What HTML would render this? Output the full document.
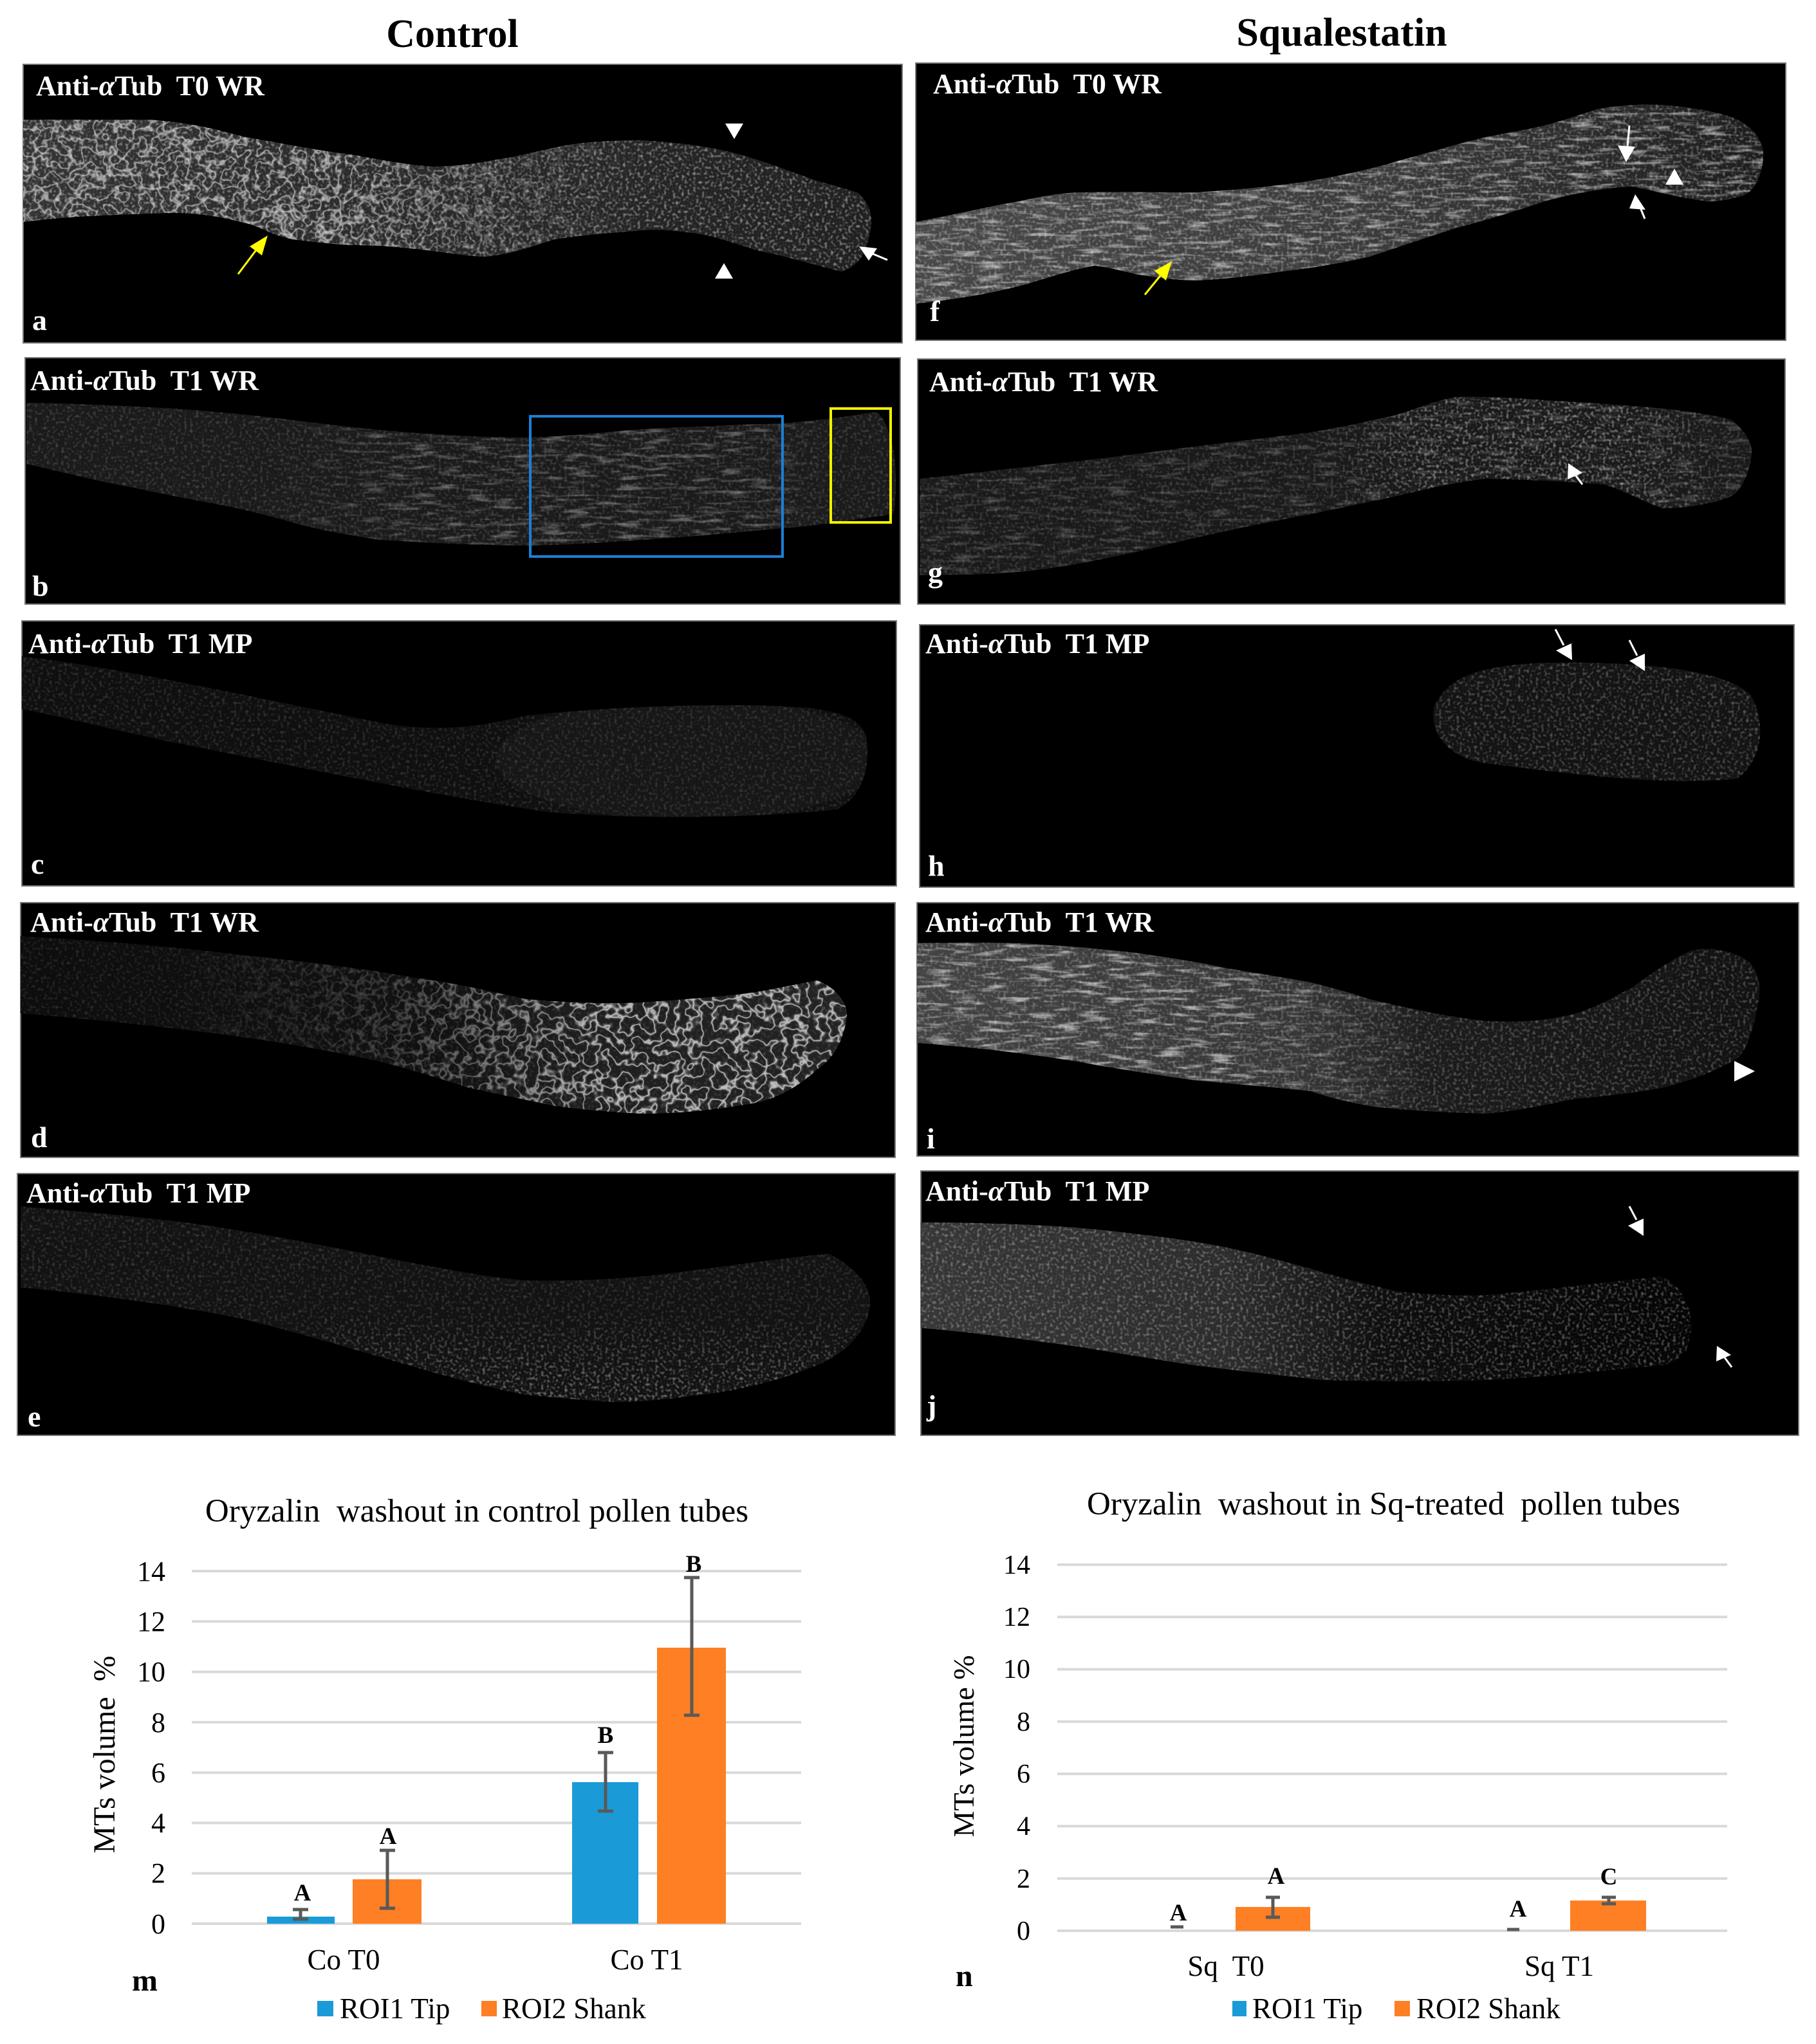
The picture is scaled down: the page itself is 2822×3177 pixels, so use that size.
<!DOCTYPE html>
<html><head><meta charset="utf-8"><style>
html,body{margin:0;padding:0;background:#fff;}
svg{display:block;}
text{font-family:"Liberation Serif",serif;}
.lbl{fill:#fff;font-weight:bold;font-size:44px;white-space:pre;}
.let{fill:#fff;font-weight:bold;font-size:46px;}
.tk{font-size:44px;fill:#000;text-anchor:end;}
.tkn{font-size:42px;fill:#000;text-anchor:end;}
.sig{font-size:37px;font-weight:bold;text-anchor:middle;fill:#000;}
.cat{font-size:45px;text-anchor:middle;fill:#000;white-space:pre;}
.leg{font-size:45px;fill:#000;}
.grid{stroke:#d9d9d9;stroke-width:4;}
.err{stroke:#595959;stroke-width:5;fill:none;}
</style></head><body>
<svg width="2822" height="3177" viewBox="0 0 2822 3177" xmlns="http://www.w3.org/2000/svg" font-family="Liberation Serif, serif">
<defs>
<filter id="dots" x="0" y="0" width="100%" height="100%" color-interpolation-filters="sRGB">
<feTurbulence type="fractalNoise" baseFrequency="0.22" numOctaves="1" seed="3"/>
<feColorMatrix type="matrix" values="0 0 0 0 1  0 0 0 0 1  0 0 0 0 1  3.2 0 0 0 -1.55"/>
</filter>
<filter id="streak" x="0" y="0" width="100%" height="100%" color-interpolation-filters="sRGB">
<feTurbulence type="fractalNoise" baseFrequency="0.025 0.16" numOctaves="2" seed="7"/>
<feColorMatrix type="matrix" values="0 0 0 0 1  0 0 0 0 1  0 0 0 0 1  3.5 0 0 0 -1.75"/>
</filter>
<filter id="fil" x="0" y="0" width="100%" height="100%" color-interpolation-filters="sRGB">
<feTurbulence type="fractalNoise" baseFrequency="0.055" numOctaves="2" seed="11"/>
<feColorMatrix type="matrix" values="0 0 0 0 1  0 0 0 0 1  0 0 0 0 1  1 0 0 0 0"/>
<feComponentTransfer><feFuncA type="table" tableValues="0 0 0 0 0 0 0 0 0 0.3 1 0.3 0 0 0 0 0 0 0 0 0"/></feComponentTransfer>
</filter>

<linearGradient id="gA" x1="0" x2="1" y1="0" y2="0"><stop offset="0" stop-color="#333"/><stop offset="0.45" stop-color="#2a2a2a"/><stop offset="1" stop-color="#202020"/></linearGradient>
<linearGradient id="gD" x1="0" x2="1" y1="0" y2="0"><stop offset="0" stop-color="#0d0d0d"/><stop offset="0.5" stop-color="#101010"/><stop offset="0.68" stop-color="#1e1e1e"/><stop offset="1" stop-color="#222"/></linearGradient>
<linearGradient id="gF" x1="0" x2="1" y1="0" y2="0"><stop offset="0" stop-color="#484848"/><stop offset="0.55" stop-color="#3a3a3a"/><stop offset="0.8" stop-color="#2a2a2a"/><stop offset="1" stop-color="#1c1c1c"/></linearGradient>
<linearGradient id="gI" x1="0" x2="1" y1="0" y2="0"><stop offset="0" stop-color="#424242"/><stop offset="0.45" stop-color="#363636"/><stop offset="0.6" stop-color="#1c1c1c"/><stop offset="1" stop-color="#111"/></linearGradient>
<linearGradient id="gJ" x1="0" x2="1" y1="0" y2="0"><stop offset="0" stop-color="#363636"/><stop offset="0.4" stop-color="#2c2c2c"/><stop offset="0.6" stop-color="#0e0e0e"/><stop offset="1" stop-color="#050505"/></linearGradient>

<!-- fade gradients for overlay masks -->
<linearGradient id="fA" gradientUnits="userSpaceOnUse" x1="36" x2="1000" y1="0" y2="0"><stop offset="0" stop-color="#fff"/><stop offset="0.5" stop-color="#fff"/><stop offset="1" stop-color="#000"/></linearGradient>
<linearGradient id="fB" gradientUnits="userSpaceOnUse" x1="400" x2="1300" y1="0" y2="0"><stop offset="0" stop-color="#000"/><stop offset="0.3" stop-color="#fff"/><stop offset="0.85" stop-color="#fff"/><stop offset="1" stop-color="#000"/></linearGradient>
<linearGradient id="fD" gradientUnits="userSpaceOnUse" x1="250" x2="950" y1="0" y2="0"><stop offset="0" stop-color="#000"/><stop offset="0.5" stop-color="#444"/><stop offset="1" stop-color="#fff"/></linearGradient>
<linearGradient id="fE" gradientUnits="userSpaceOnUse" x1="0" x2="0" y1="2040" y2="2160"><stop offset="0" stop-color="#000"/><stop offset="1" stop-color="#fff"/></linearGradient>
<linearGradient id="fG" gradientUnits="userSpaceOnUse" x1="2050" x2="2720" y1="0" y2="0"><stop offset="0" stop-color="#000"/><stop offset="0.25" stop-color="#fff"/><stop offset="0.7" stop-color="#fff"/><stop offset="1" stop-color="#000"/></linearGradient>
<linearGradient id="fI" gradientUnits="userSpaceOnUse" x1="1900" x2="2250" y1="0" y2="0"><stop offset="0" stop-color="#fff"/><stop offset="1" stop-color="#000"/></linearGradient>
<mask id="mA"><rect x="0" y="0" width="2822" height="3177" fill="url(#fA)"/></mask>
<mask id="mB"><rect x="0" y="0" width="2822" height="3177" fill="url(#fB)"/></mask>
<mask id="mD"><rect x="0" y="0" width="2822" height="3177" fill="url(#fD)"/></mask>
<mask id="mE"><rect x="0" y="0" width="2822" height="3177" fill="url(#fE)"/></mask>
<mask id="mG"><rect x="0" y="0" width="2822" height="3177" fill="url(#fG)"/></mask>
<mask id="mI"><rect x="0" y="0" width="2822" height="3177" fill="url(#fI)"/></mask>

<path id="pA" d="M36,186 L230,186 C300,190 350,205 381,213 C450,225 500,235 545,240 C600,250 650,259 680,259 C730,257 760,250 790,245 C840,235 880,224 907,222 C950,218 980,218 998,218 C1060,222 1100,228 1134,236 C1190,250 1230,268 1270,281 C1300,290 1320,295 1334,300 C1350,315 1358,335 1352,360 C1348,390 1335,415 1307,422 C1260,410 1220,398 1180,390 C1140,378 1110,367 1089,364 C1050,358 1020,356 998,358 C950,362 900,366 862,372 C820,385 790,396 753,399 C720,398 680,390 635,386 C600,382 570,381 545,381 C500,378 480,375 454,372 C420,365 410,355 390,349 C350,338 310,331 272,331 C220,332 180,334 136,336 C100,338 60,342 36,345 Z"/>
<path id="pB" d="M41,626 C150,628 220,632 272,635 C360,642 400,646 454,653 C530,662 580,668 635,672 C720,678 770,680 817,680 C900,678 950,670 998,667 C1100,662 1160,660 1216,658 C1290,652 1330,645 1361,640 C1380,650 1392,700 1392,740 C1392,780 1390,795 1388,799 C1300,812 1260,818 1216,821 C1120,830 1050,836 998,839 C900,846 850,848 799,848 C700,846 640,842 590,839 C530,830 490,822 454,812 C400,796 360,788 318,780 C260,770 220,760 181,753 C120,740 80,730 41,721 Z"/>
<path id="pC" d="M34,1020 C200,1040 400,1085 600,1125 C700,1140 760,1125 820,1112 C950,1098 1100,1094 1200,1097 C1290,1100 1330,1110 1345,1140 C1355,1190 1340,1240 1300,1258 C1200,1270 1000,1275 850,1262 C700,1240 500,1200 300,1160 C200,1140 100,1115 34,1102 Z"/>
<path id="pD" d="M32,1455 C200,1465 300,1475 363,1483 C480,1495 580,1508 635,1518 C720,1530 780,1545 817,1553 C900,1560 960,1560 998,1558 C1080,1552 1140,1548 1180,1541 C1220,1534 1250,1527 1270,1524 C1300,1535 1318,1560 1316,1581 C1310,1620 1295,1645 1270,1662 C1240,1690 1210,1705 1180,1713 C1100,1728 1040,1731 998,1731 C940,1728 900,1724 862,1719 C820,1710 770,1700 726,1690 C680,1675 630,1660 590,1650 C500,1630 420,1618 363,1610 C250,1595 120,1582 32,1575 Z"/>
<path id="pE" d="M32,1875 C150,1885 220,1892 272,1898 C380,1912 470,1930 545,1944 C650,1965 750,1985 817,1990 C900,1992 960,1987 998,1984 C1080,1975 1140,1966 1180,1961 C1230,1955 1265,1950 1289,1949 C1330,1970 1355,2000 1352,2030 C1345,2075 1310,2105 1270,2122 C1200,2150 1140,2162 1089,2168 C1030,2176 990,2179 953,2179 C900,2176 860,2172 817,2168 C750,2155 690,2138 635,2122 C540,2094 440,2065 363,2047 C250,2025 130,2010 32,2001 Z"/>
<path id="pF" d="M1423,345 C1500,330 1540,320 1583,313 C1620,305 1650,300 1674,299 C1750,298 1800,299 1856,299 C1930,295 1990,288 2037,281 C2100,270 2140,260 2173,250 C2230,235 2270,222 2309,213 C2350,205 2380,200 2400,195 C2440,185 2470,172 2491,168 C2530,162 2560,162 2582,163 C2640,167 2690,178 2709,191 C2730,205 2742,225 2740,245 C2738,275 2725,298 2709,304 C2690,310 2670,313 2654,313 C2610,308 2570,296 2536,290 C2490,292 2440,302 2400,313 C2350,330 2300,345 2264,354 C2220,368 2170,385 2128,399 C2080,410 2030,418 1992,422 C1940,430 1890,435 1856,436 C1820,435 1790,430 1765,426 C1740,420 1720,415 1701,413 C1660,420 1620,435 1583,445 C1530,458 1480,466 1423,472 Z"/>
<path id="pG" d="M1429,744 C1520,735 1620,722 1674,717 C1750,708 1810,700 1856,694 C1930,685 1990,678 2037,672 C2090,663 2140,652 2173,644 C2210,632 2240,620 2264,617 C2310,616 2360,619 2400,622 C2470,626 2530,630 2582,635 C2630,640 2670,646 2691,653 C2712,670 2725,690 2722,708 C2718,735 2708,760 2691,771 C2660,784 2620,790 2582,790 C2550,778 2520,760 2491,753 C2430,748 2360,745 2309,744 C2240,752 2180,770 2128,780 C2060,795 2000,806 1946,817 C1880,830 1820,845 1765,858 C1700,872 1640,884 1583,889 C1530,893 1480,894 1429,894 Z"/>
<path id="pH" d="M2228,1100 C2250,1050 2300,1035 2400,1030 C2550,1028 2680,1040 2720,1080 C2745,1120 2740,1180 2700,1210 C2600,1222 2450,1205 2300,1185 C2250,1175 2222,1140 2228,1100 Z"/>
<path id="pI" d="M1425,1466 C1480,1465 1540,1465 1583,1466 C1660,1470 1720,1476 1765,1481 C1830,1490 1870,1497 1901,1504 C1960,1514 2000,1520 2037,1527 C2080,1538 2105,1545 2128,1553 C2200,1570 2260,1582 2309,1587 C2370,1590 2410,1585 2446,1576 C2490,1562 2510,1548 2536,1535 C2570,1510 2600,1490 2627,1478 C2660,1470 2700,1480 2718,1495 C2735,1515 2738,1540 2731,1564 C2725,1600 2715,1630 2700,1645 C2660,1668 2620,1682 2582,1691 C2530,1700 2490,1704 2446,1708 C2400,1718 2350,1728 2309,1731 C2240,1729 2170,1725 2128,1719 C2090,1712 2060,1704 2037,1696 C1980,1690 1910,1684 1856,1679 C1790,1670 1730,1660 1674,1650 C1610,1640 1550,1632 1493,1627 C1460,1624 1440,1622 1425,1621 Z"/>
<path id="pJ" d="M1431,1900 C1500,1900 1550,1902 1583,1903 C1660,1906 1720,1912 1765,1918 C1830,1925 1870,1932 1901,1938 C1960,1950 2000,1962 2037,1972 C2090,1988 2140,2000 2173,2007 C2220,2013 2270,2014 2309,2013 C2400,2005 2500,1992 2582,1984 C2620,2000 2640,2050 2620,2100 C2605,2118 2595,2120 2582,2122 C2480,2132 2380,2142 2309,2145 C2220,2148 2120,2147 2055,2145 C1990,2138 1920,2130 1856,2122 C1790,2112 1730,2102 1674,2093 C1580,2080 1500,2070 1431,2064 Z"/>

<clipPath id="cA"><use href="#pA"/></clipPath>
<clipPath id="cB"><use href="#pB"/></clipPath>
<clipPath id="cC"><use href="#pC"/></clipPath>
<clipPath id="cD"><use href="#pD"/></clipPath>
<clipPath id="cE"><use href="#pE"/></clipPath>
<clipPath id="cF"><use href="#pF"/></clipPath>
<clipPath id="cG"><use href="#pG"/></clipPath>
<clipPath id="cH"><use href="#pH"/></clipPath>
<clipPath id="cI"><use href="#pI"/></clipPath>
<clipPath id="cJ"><use href="#pJ"/></clipPath>
</defs>

<rect x="0" y="0" width="2822" height="3177" fill="#fff"/>

<!-- Column titles -->
<text x="703" y="73" font-size="62" font-weight="bold" text-anchor="middle" fill="#000">Control</text>
<text x="2085" y="71" font-size="62" font-weight="bold" text-anchor="middle" fill="#000">Squalestatin</text>

<!-- Panel backgrounds -->
<g fill="#000" stroke="#777" stroke-width="2">
<rect x="36" y="100" width="1366" height="433"/>
<rect x="39" y="556" width="1360" height="383"/>
<rect x="34" y="965" width="1359" height="412"/>
<rect x="32" y="1403" width="1359" height="396"/>
<rect x="27" y="1824" width="1364" height="407"/>
<rect x="1423" y="98" width="1352" height="431"/>
<rect x="1426" y="558" width="1348" height="381"/>
<rect x="1429" y="971" width="1359" height="408"/>
<rect x="1425" y="1403" width="1370" height="394"/>
<rect x="1431" y="1820" width="1364" height="411"/>
</g>

<!-- Panel a -->
<use href="#pA" fill="url(#gA)"/>
<g clip-path="url(#cA)">
<rect x="36" y="180" width="1000" height="250" filter="url(#fil)" opacity="0.6" mask="url(#mA)"/>
<rect x="36" y="180" width="1330" height="250" filter="url(#dots)" opacity="0.45"/>
</g>
<!-- Panel b -->
<use href="#pB" fill="#1a1a1a"/>
<g clip-path="url(#cB)">
<rect x="39" y="620" width="1360" height="240" filter="url(#dots)" opacity="0.18"/>
<rect x="400" y="640" width="900" height="220" filter="url(#streak)" opacity="0.3" mask="url(#mB)"/>
</g>
<!-- Panel c -->
<use href="#pC" fill="#0f0f0f"/>
<g clip-path="url(#cC)">
<ellipse cx="1070" cy="1180" rx="300" ry="95" fill="#161616"/>
<rect x="34" y="1015" width="1320" height="270" filter="url(#dots)" opacity="0.15"/>
</g>
<!-- Panel d -->
<use href="#pD" fill="url(#gD)"/>
<g clip-path="url(#cD)">
<rect x="250" y="1450" width="1080" height="290" filter="url(#fil)" opacity="0.75" mask="url(#mD)"/>
<rect x="32" y="1450" width="1290" height="290" filter="url(#dots)" opacity="0.12"/>
</g>
<!-- Panel e -->
<use href="#pE" fill="#121212"/>
<g clip-path="url(#cE)">
<rect x="27" y="1870" width="1330" height="315" filter="url(#dots)" opacity="0.16"/>
<rect x="500" y="2040" width="850" height="145" filter="url(#dots)" opacity="0.3" mask="url(#mE)"/>
</g>
<!-- Panel f -->
<use href="#pF" fill="url(#gF)"/>
<g clip-path="url(#cF)">
<rect x="1423" y="160" width="1320" height="320" filter="url(#streak)" opacity="0.5"/>
<rect x="1423" y="160" width="1320" height="320" filter="url(#dots)" opacity="0.35"/>
</g>
<!-- Panel g -->
<use href="#pG" fill="#191919"/>
<g clip-path="url(#cG)">
<rect x="1426" y="610" width="1300" height="290" filter="url(#streak)" opacity="0.18"/>
<rect x="1426" y="610" width="1300" height="290" filter="url(#dots)" opacity="0.18"/>
<rect x="2050" y="610" width="680" height="200" filter="url(#dots)" opacity="0.3" mask="url(#mG)"/>
</g>
<!-- Panel h -->
<use href="#pH" fill="#131313"/>
<g clip-path="url(#cH)">
<rect x="2220" y="1025" width="530" height="200" filter="url(#dots)" opacity="0.28"/>
</g>
<!-- Panel i -->
<use href="#pI" fill="url(#gI)"/>
<g clip-path="url(#cI)">
<rect x="1425" y="1460" width="830" height="280" filter="url(#streak)" opacity="0.55" mask="url(#mI)"/>
<rect x="1425" y="1460" width="1320" height="280" filter="url(#dots)" opacity="0.28"/>
</g>
<!-- Panel j -->
<use href="#pJ" fill="url(#gJ)"/>
<g clip-path="url(#cJ)">
<rect x="1431" y="1895" width="1200" height="255" filter="url(#dots)" opacity="0.33"/>
</g>

<!-- Boxes in panel b -->
<rect x="824" y="647" width="392" height="218" fill="none" stroke="#1b80d6" stroke-width="4"/>
<rect x="1291" y="635" width="93" height="177" fill="none" stroke="#f2f200" stroke-width="4"/>

<!-- Arrows -->
<g fill="#ffff00" stroke="#ffff00">
<line x1="370" y1="426" x2="400" y2="386" stroke-width="3"/>
<polygon points="416,366 407,397 388,383" stroke="none"/>
<line x1="1779" y1="458" x2="1806" y2="425" stroke-width="3"/>
<polygon points="1821,406 1812,436 1794,421" stroke="none"/>
</g>
<g fill="#fff" stroke="#fff">
<polygon points="1127,192 1155,192 1141,216" stroke="none"/>
<polygon points="1111,433 1139,433 1125,409" stroke="none"/>
<line x1="1379" y1="404" x2="1355" y2="394" stroke-width="3"/>
<polygon points="1335,383 1363,386 1350,405" stroke="none"/>
<line x1="2532" y1="195" x2="2529" y2="228" stroke-width="3"/>
<polygon points="2527,252 2514,226 2541,228" stroke="none"/>
<polygon points="2588,287 2616,287 2602,262" stroke="none"/>
<line x1="2556" y1="340" x2="2547" y2="318" stroke-width="3"/>
<polygon points="2541,302 2557,326 2532,324" stroke="none"/>
<line x1="2459" y1="753" x2="2447" y2="737" stroke-width="3"/>
<polygon points="2437,720 2459,735 2436,745" stroke="none"/>
<line x1="2417" y1="978" x2="2430" y2="1003" stroke-width="3"/>
<polygon points="2443,1026 2418,1011 2442,1000" stroke="none"/>
<line x1="2532" y1="995" x2="2544" y2="1019" stroke-width="3"/>
<polygon points="2556,1043 2532,1027 2556,1016" stroke="none"/>
<polygon points="2695,1649 2695,1681 2727,1665" stroke="none"/>
<line x1="2532" y1="1875" x2="2543" y2="1896" stroke-width="3"/>
<polygon points="2554,1921 2530,1905 2554,1894" stroke="none"/>
<line x1="2691" y1="2125" x2="2680" y2="2110" stroke-width="3"/>
<polygon points="2668,2092 2690,2106 2667,2116" stroke="none"/>
</g>

<!-- Panel labels -->
<text class="lbl" x="56" y="148">Anti-<tspan font-style="italic">α</tspan>Tub  T0 WR</text>
<text class="lbl" x="47" y="606">Anti-<tspan font-style="italic">α</tspan>Tub  T1 WR</text>
<text class="lbl" x="44" y="1015">Anti-<tspan font-style="italic">α</tspan>Tub  T1 MP</text>
<text class="lbl" x="47" y="1448">Anti-<tspan font-style="italic">α</tspan>Tub  T1 WR</text>
<text class="lbl" x="41" y="1869">Anti-<tspan font-style="italic">α</tspan>Tub  T1 MP</text>
<text class="lbl" x="1450" y="145">Anti-<tspan font-style="italic">α</tspan>Tub  T0 WR</text>
<text class="lbl" x="1444" y="608">Anti-<tspan font-style="italic">α</tspan>Tub  T1 WR</text>
<text class="lbl" x="1438" y="1015">Anti-<tspan font-style="italic">α</tspan>Tub  T1 MP</text>
<text class="lbl" x="1438" y="1448">Anti-<tspan font-style="italic">α</tspan>Tub  T1 WR</text>
<text class="lbl" x="1438" y="1866">Anti-<tspan font-style="italic">α</tspan>Tub  T1 MP</text>

<text class="let" x="50" y="513">a</text>
<text class="let" x="50" y="926">b</text>
<text class="let" x="48" y="1358">c</text>
<text class="let" x="48" y="1783">d</text>
<text class="let" x="43" y="2217">e</text>
<text class="let" x="1445" y="499">f</text>
<text class="let" x="1442" y="905">g</text>
<text class="let" x="1442" y="1361">h</text>
<text class="let" x="1440" y="1785">i</text>
<text class="let" x="1440" y="2200">j</text>

<!-- Chart m -->
<text x="741" y="2365" font-size="51" text-anchor="middle" style="white-space:pre">Oryzalin  washout in control pollen tubes</text>
<g class="grid">
<line x1="298" x2="1245" y1="2442" y2="2442"/>
<line x1="298" x2="1245" y1="2520.3" y2="2520.3"/>
<line x1="298" x2="1245" y1="2598.6" y2="2598.6"/>
<line x1="298" x2="1245" y1="2676.9" y2="2676.9"/>
<line x1="298" x2="1245" y1="2755.2" y2="2755.2"/>
<line x1="298" x2="1245" y1="2833.4" y2="2833.4"/>
<line x1="298" x2="1245" y1="2911.7" y2="2911.7"/>
<line x1="298" x2="1245" y1="2990" y2="2990"/>
</g>
<g>
<text class="tk" x="257" y="2457">14</text>
<text class="tk" x="257" y="2535">12</text>
<text class="tk" x="257" y="2613">10</text>
<text class="tk" x="257" y="2692">8</text>
<text class="tk" x="257" y="2770">6</text>
<text class="tk" x="257" y="2848">4</text>
<text class="tk" x="257" y="2926">2</text>
<text class="tk" x="257" y="3005">0</text>
</g>
<rect x="415" y="2979" width="105" height="11" fill="#1a9bd7"/>
<rect x="548" y="2921" width="107" height="69" fill="#fe7f24"/>
<rect x="889" y="2770" width="103" height="220" fill="#1a9bd7"/>
<rect x="1021" y="2561" width="107" height="429" fill="#fe7f24"/>
<g class="err">
<path d="M467,2968 V2983 M455,2968 H479 M455,2983 H479"/>
<path d="M602,2876 V2966 M590,2876 H614 M590,2966 H614"/>
<path d="M941,2724 V2815 M929,2724 H953 M929,2815 H953"/>
<path d="M1075,2452 V2666 M1063,2452 H1087 M1063,2666 H1087"/>
</g>
<text class="sig" x="470" y="2954">A</text>
<text class="sig" x="603" y="2866">A</text>
<text class="sig" x="941" y="2709">B</text>
<text class="sig" x="1078" y="2443">B</text>
<text transform="translate(178,2727) rotate(-90)" font-size="48" text-anchor="middle" style="white-space:pre">MTs volume  %</text>
<text class="cat" x="534" y="3061">Co T0</text>
<text class="cat" x="1005" y="3061">Co T1</text>
<text x="205" y="3094" font-size="48" font-weight="bold">m</text>
<rect x="493" y="3110" width="25" height="24" fill="#1a9bd7"/>
<text class="leg" x="528" y="3137">ROI1 Tip</text>
<rect x="748" y="3110" width="24" height="24" fill="#fe7f24"/>
<text class="leg" x="780" y="3137">ROI2 Shank</text>

<!-- Chart n -->
<text x="2150" y="2354" font-size="51" text-anchor="middle" style="white-space:pre">Oryzalin  washout in Sq-treated  pollen tubes</text>
<g class="grid">
<line x1="1643" x2="2684" y1="2432" y2="2432"/>
<line x1="1643" x2="2684" y1="2513.3" y2="2513.3"/>
<line x1="1643" x2="2684" y1="2594.6" y2="2594.6"/>
<line x1="1643" x2="2684" y1="2675.9" y2="2675.9"/>
<line x1="1643" x2="2684" y1="2757.1" y2="2757.1"/>
<line x1="1643" x2="2684" y1="2838.4" y2="2838.4"/>
<line x1="1643" x2="2684" y1="2919.7" y2="2919.7"/>
<line x1="1643" x2="2684" y1="3001" y2="3001"/>
</g>
<g>
<text class="tkn" x="1601" y="2446">14</text>
<text class="tkn" x="1601" y="2527">12</text>
<text class="tkn" x="1601" y="2608">10</text>
<text class="tkn" x="1601" y="2690">8</text>
<text class="tkn" x="1601" y="2771">6</text>
<text class="tkn" x="1601" y="2852">4</text>
<text class="tkn" x="1601" y="2934">2</text>
<text class="tkn" x="1601" y="3015">0</text>
</g>
<rect x="1920" y="2964" width="116" height="37" fill="#fe7f24"/>
<rect x="2440" y="2954" width="118" height="47" fill="#fe7f24"/>
<g class="err">
<path d="M1819,2995 H1839"/>
<path d="M2342,2999 H2361"/>
<path d="M1978,2949 V2980 M1967,2949 H1989 M1967,2980 H1989"/>
<path d="M2500,2949 V2959 M2489,2949 H2511 M2489,2959 H2511"/>
</g>
<text class="sig" x="1831" y="2985">A</text>
<text class="sig" x="1983" y="2928">A</text>
<text class="sig" x="2359" y="2979">A</text>
<text class="sig" x="2500" y="2929">C</text>
<text transform="translate(1513,2714) rotate(-90)" font-size="46" text-anchor="middle" style="white-space:pre">MTs volume %</text>
<text class="cat" x="1905" y="3071">Sq  T0</text>
<text class="cat" x="2423" y="3071">Sq T1</text>
<text x="1485" y="3087" font-size="48" font-weight="bold">n</text>
<rect x="1915" y="3110" width="22" height="24" fill="#1a9bd7"/>
<text class="leg" x="1946" y="3137">ROI1 Tip</text>
<rect x="2167" y="3110" width="24" height="24" fill="#fe7f24"/>
<text class="leg" x="2201" y="3137">ROI2 Shank</text>
</svg>
</body></html>
